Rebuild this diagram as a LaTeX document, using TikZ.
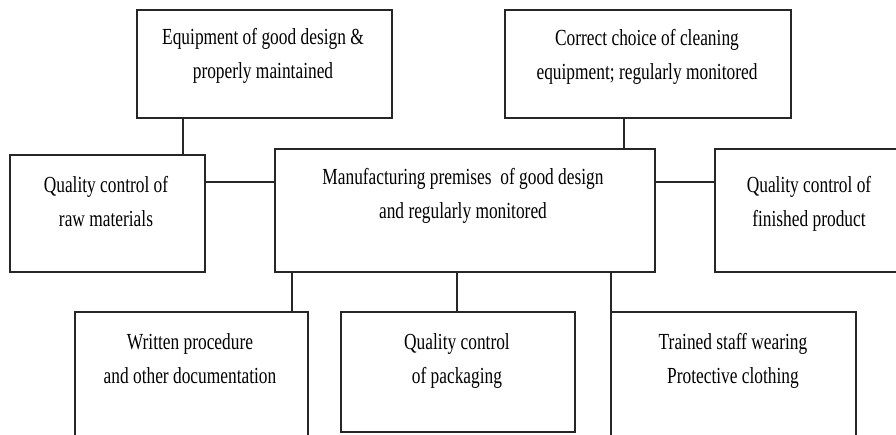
\documentclass[tikz,border=0pt]{standalone}
\usepackage{fontspec}
\setmainfont{Liberation Serif}[FakeStretch=0.755]
\begin{document}
\begin{tikzpicture}[x=1pt,y=-1pt,
  box/.style={draw=black!85,line width=1.6pt,fill=white,inner sep=0pt,anchor=north west},
  txt/.style={align=center,anchor=north,inner sep=0pt,text=black,font=\fontsize{23}{34.5}\selectfont},
  conn/.style={draw=black!85,line width=1.6pt}]
\useasboundingbox (0,0) rectangle (896,434);
\clip (0,0) rectangle (896,434);
% boxes
\node[box,minimum width=255pt,minimum height=108pt] (equip) at (136,9) {};
\node[box,minimum width=286pt,minimum height=108pt] (clean) at (504,9) {};
\node[box,minimum width=195pt,minimum height=117pt] (raw) at (9,154) {};
\node[box,minimum width=380pt,minimum height=123pt] (prem) at (274,148) {};
\node[box,minimum width=200pt,minimum height=123pt] (fin) at (714,148) {};
\node[box,minimum width=233pt,minimum height=140pt] (doc) at (74,311) {};
\node[box,minimum width=234pt,minimum height=120pt] (pack) at (340,311) {};
\node[box,minimum width=245pt,minimum height=140pt] (staff) at (610,311) {};
% texts
\node[txt] (tequip) at (263,28) {Equipment of good design \&\\properly maintained};
\node[txt] (tclean) at (647,29) {Correct choice of cleaning\\equipment; regularly monitored};
\node[txt] (traw) at (106,176) {Quality control of\\raw materials};
\node[txt] (tprem) at (463,168) {Manufacturing premises\ \ of good design\\and regularly monitored};
\node[txt] (tfin) at (809,176) {Quality control of\\finished product};
\node[txt] (tdoc) at (190,333) {Written procedure\\and other documentation};
\node[txt] (tpack) at (457,333) {Quality control\\of packaging};
\node[txt] (tstaff) at (733,333) {Trained staff wearing\\Protective clothing};
% connectors
\coordinate (c1) at (183,0);
\coordinate (c2) at (624,0);
\coordinate (h) at (0,182);
\coordinate (d1) at (292,0);
\coordinate (d2) at (457,0);
\coordinate (d3) at (610.8,0);
\draw[conn] (equip.south -| c1) -- (raw.north -| c1);
\draw[conn] (clean.south -| c2) -- (prem.north -| c2);
\draw[conn] (raw.east |- h) -- (prem.west |- h);
\draw[conn] (prem.east |- h) -- (fin.west |- h);
\draw[conn] (prem.south -| d1) -- (doc.north -| d1);
\draw[conn] (prem.south -| d2) -- (pack.north -| d2);
\draw[conn] (prem.south -| d3) -- (staff.north -| d3);
\end{tikzpicture}
\end{document}
